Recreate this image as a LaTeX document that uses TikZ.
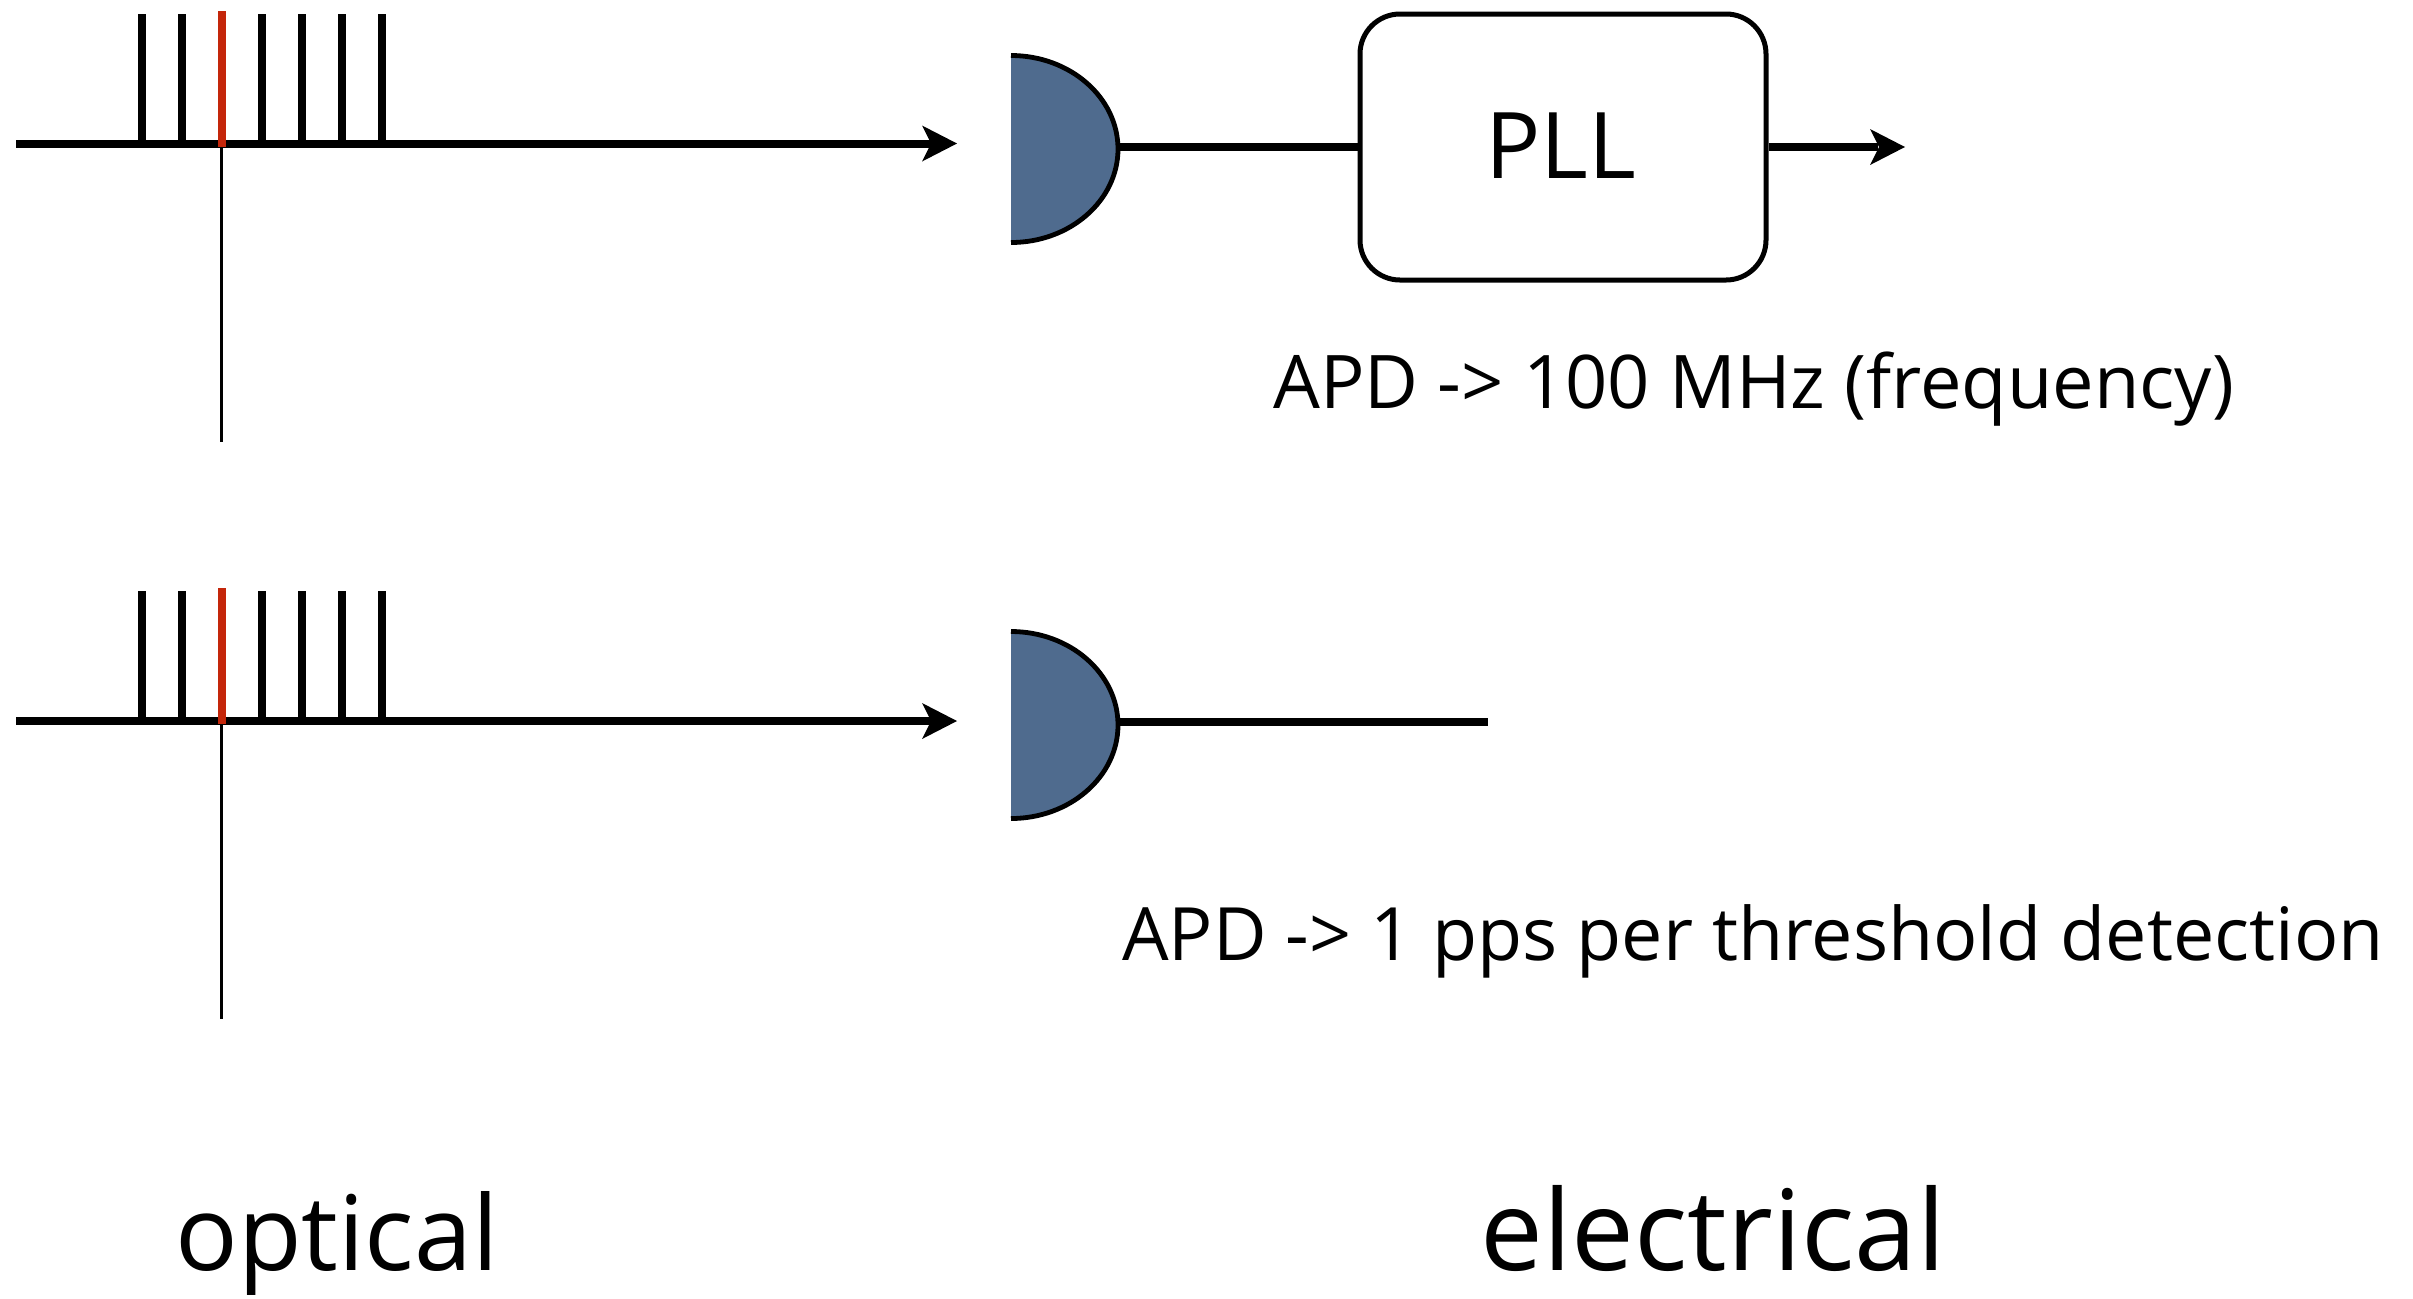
\documentclass[tikz,border=0pt]{standalone}
\usepackage{fontspec}
\setmainfont{Open Sans}
\definecolor{detblue}{HTML}{4F6B8E}
\definecolor{pulsered}{HTML}{C4260A}
\tikzset{
  x=0.5pt,y=-0.5pt,
  fibre/.style={line width=4pt,draw=black},
  pulse/.style={line width=4pt,draw=black},
  redpulse/.style={line width=4pt,draw=pulsered},
  marker/.style={line width=1.2pt,draw=black},
  tip/.style={fill=black,draw=none},
  detedge/.style={draw=black,line width=2.4pt},
  lbl/.style={inner sep=0pt,anchor=base,text=black},
  pllbox/.style={draw=black,line width=2.5pt,fill=white,rounded corners=20pt,minimum width=203pt,minimum height=133pt,inner sep=0pt},
}
\newcommand{\rowdraw}[2]{%
  \coordinate (start#2) at (16,#1);
  \coordinate (end#2) at (943,#1);
  \coordinate (tipp#2) at (957,#1);
  \draw[fibre] (start#2) -- (end#2);
  \fill[tip] (tipp#2) -- ++(-35,-18) -- ++(9,18) -- ++(-9,18) -- cycle;
  \foreach \px in {141.5,181.5,261.5,301.5,341.5,381.5}{
    \draw[pulse] (\px,#1) -- (\px,#1-130);
  }
  \draw[redpulse] (221.5,#1+3) -- (221.5,#1-133);
  \coordinate (mk#2) at (221.5,#1+4);
  \coordinate (mkb#2) at (221.5,#1+298);
  \draw[marker] (mk#2) -- (mkb#2);
}
\newcommand{\detshape}[1]{%
  \fill[detblue] (1011,#1-93.5) .. controls (1070,#1-93.5) and (1118,#1-51.6) .. (1118,#1) .. controls (1118,#1+51.6) and (1070,#1+93.5) .. (1011,#1+93.5) -- cycle;
  \draw[detedge] (1011,#1-93.5) .. controls (1070,#1-93.5) and (1118,#1-51.6) .. (1118,#1) .. controls (1118,#1+51.6) and (1070,#1+93.5) .. (1011,#1+93.5);
}
\begin{document}
\begin{tikzpicture}
\useasboundingbox (0,0) rectangle (2413,1298);
\rowdraw{143.5}{a}
\rowdraw{721}{b}
\detshape{149}
\detshape{725}
\coordinate (deta) at (1120,147);
\coordinate (detb) at (1120,722);
\coordinate (endb) at (1488,722);
\node[pllbox] (pll) at (1563,147) {};
\node[lbl,font=\fontsize{46pt}{50pt}\selectfont] (plltext) at (1561,178) {PLL};
\draw[fibre] (deta) -- (pll.west);
\coordinate (outa) at (1878,147);
\coordinate (outtip) at (1905,147);
\draw[fibre] (pll.east) -- (outa);
\fill[tip] (outtip) -- ++(-35,-18) -- ++(9,18) -- ++(-9,18) -- cycle;
\draw[fibre] (detb) -- (endb);
\node[lbl,font=\fontsize{37pt}{40pt}\selectfont] (freq) at (1753.5,408) {APD -> 100 MHz (frequency)};
\node[lbl,font=\fontsize{36.8pt}{40pt}\selectfont] (pps) at (1753,960) {APD -> 1 pps per threshold detection};
\node[lbl,font=\fontsize{52pt}{60pt}\selectfont] (opt) at (337,1270) {optical};
\node[lbl,font=\fontsize{56pt}{60pt}\selectfont] (ele) at (1713,1270) {electrical};
\end{tikzpicture}
\end{document}
